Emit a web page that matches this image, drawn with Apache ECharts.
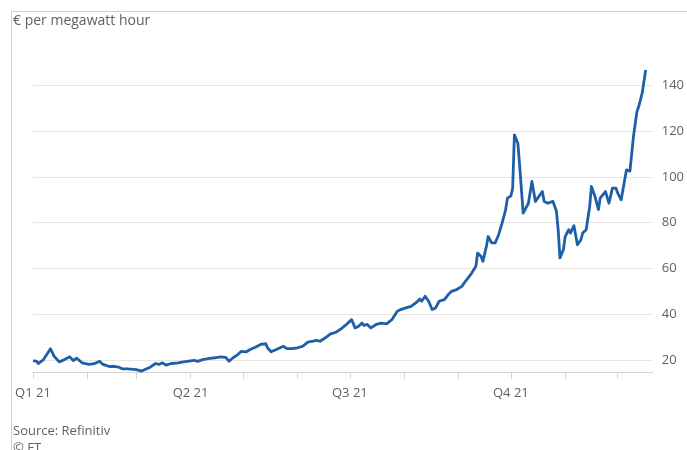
<!DOCTYPE html>
<html>
<head>
<meta charset="utf-8">
<script src="https://cdn.jsdelivr.net/npm/echarts@6/dist/echarts.min.js"></script>
<style>
  html, body { margin: 0; padding: 0; background: #fff; }
  #chart { width: 687px; height: 450px; }
</style>
</head>
<body>
<div id="chart"></div>
<script>
// ---- Data ----
const axisStart = '2021-01-01';
const axisEnd = '2021-12-21';

const dates = [
  '2021-01-01','2021-01-03','2021-01-04','2021-01-07','2021-01-11','2021-01-13','2021-01-16','2021-01-19',
  '2021-01-22','2021-01-24','2021-01-26','2021-01-29','2021-01-30','2021-02-02','2021-02-05','2021-02-08',
  '2021-02-10','2021-02-14','2021-02-16','2021-02-19','2021-02-21','2021-02-24','2021-03-01','2021-03-04',
  '2021-03-06','2021-03-09','2021-03-12','2021-03-14','2021-03-16','2021-03-18','2021-03-21','2021-03-25',
  '2021-03-27','2021-03-30','2021-04-03','2021-04-05','2021-04-08','2021-04-12','2021-04-15','2021-04-18',
  '2021-04-21','2021-04-23','2021-04-25','2021-04-28','2021-04-30','2021-05-03','2021-05-05','2021-05-08',
  '2021-05-11','2021-05-14','2021-05-15','2021-05-17','2021-05-20','2021-05-21','2021-05-24','2021-05-26',
  '2021-05-29','2021-06-01','2021-06-04','2021-06-07','2021-06-10','2021-06-12','2021-06-14','2021-06-17',
  '2021-06-20','2021-06-23','2021-06-26','2021-06-29','2021-07-02','2021-07-04','2021-07-06','2021-07-08',
  '2021-07-09','2021-07-11','2021-07-13','2021-07-16','2021-07-19','2021-07-22','2021-07-25','2021-07-28',
  '2021-07-30','2021-08-02','2021-08-05','2021-08-08','2021-08-10','2021-08-11','2021-08-13','2021-08-15',
  '2021-08-17','2021-08-19','2021-08-21','2021-08-24','2021-08-26','2021-08-28','2021-08-31','2021-09-03',
  '2021-09-05','2021-09-08','2021-09-11','2021-09-12','2021-09-14','2021-09-15','2021-09-17','2021-09-18',
  '2021-09-20','2021-09-22','2021-09-24','2021-09-26','2021-09-28','2021-09-29','2021-10-01','2021-10-02',
  '2021-10-03','2021-10-05','2021-10-06','2021-10-08','2021-10-09','2021-10-11','2021-10-13','2021-10-15',
  '2021-10-17','2021-10-19','2021-10-20','2021-10-22','2021-10-25','2021-10-27','2021-10-28','2021-10-29',
  '2021-10-31','2021-11-01','2021-11-03','2021-11-04','2021-11-05','2021-11-06','2021-11-08','2021-11-10',
  '2021-11-11','2021-11-13','2021-11-15','2021-11-16','2021-11-18','2021-11-20','2021-11-21','2021-11-24',
  '2021-11-25','2021-11-26','2021-11-28','2021-11-30','2021-12-01','2021-12-03','2021-12-04','2021-12-06',
  '2021-12-08','2021-12-10','2021-12-12','2021-12-13','2021-12-15','2021-12-16','2021-12-17'
];

const prices = [
  19.8, 19.7, 18.7, 20.4, 25.1, 21.9, 19.4, 20.4,
  21.6, 20.0, 21.0, 19.0, 19.7, 18.3, 18.6, 19.7,
  18.3, 17.3, 17.5, 17.1, 16.4, 16.4, 16.0, 15.4,
  16.1, 17.1, 18.7, 18.3, 19.0, 18.0, 18.7, 19.0,
  19.3, 19.6, 20.1, 19.6, 20.4, 20.9, 21.2, 21.6,
  21.4, 19.7, 21.0, 22.6, 24.0, 23.8, 24.8, 25.8,
  27.0, 27.3, 25.5, 23.8, 24.8, 25.1, 26.2, 25.2,
  25.2, 25.5, 26.2, 28.0, 28.4, 28.8, 28.4, 29.9,
  31.6, 32.3, 33.8, 35.7, 37.8, 34.2, 34.9, 36.3,
  35.3, 35.7, 34.2, 35.7, 36.3, 36.0, 37.8, 41.4,
  42.2, 42.9, 43.6, 45.3, 46.8, 45.8, 48.0, 45.8,
  42.2, 42.9, 45.8, 46.5, 48.5, 50.1, 50.9, 52.3,
  54.5, 57.4, 61.0, 66.8, 65.3, 63.2, 69.7, 74.0,
  71.2, 71.2, 74.8, 79.9, 85.7, 90.7, 91.7, 95.0,
  118.3, 114.5, 105.0, 84.2, 84.2, 88.5, 98.0, 89.3,
  91.5, 93.6, 89.3, 88.5, 89.3, 85.0, 77.0, 64.7,
  68.3, 74.0, 77.0, 75.5, 74.8, 78.7, 70.4, 72.6,
  75.5, 77.0, 87.1, 95.8, 91.5, 85.7, 90.7, 93.6,
  94.3, 88.5, 95.1, 95.1, 92.9, 90.0, 90.0, 103.0,
  102.5, 117.5, 128.4, 130.6, 136.4, 136.0, 146.5
];

const quarterLabels = { '01': 'Q1 21', '04': 'Q2 21', '07': 'Q3 21', '10': 'Q4 21' };
const yTickValues = [20, 40, 60, 80, 100, 120, 140];

// ---- Build daily category axis ----
function fmt(d) {
  const m = String(d.getUTCMonth() + 1).padStart(2, '0');
  const day = String(d.getUTCDate()).padStart(2, '0');
  return d.getUTCFullYear() + '-' + m + '-' + day;
}
const categories = [];
for (let t = Date.parse(axisStart + 'T00:00:00Z'); t <= Date.parse(axisEnd + 'T00:00:00Z'); t += 86400000) {
  categories.push(fmt(new Date(t)));
}
const seriesData = categories.map(() => null);
dates.forEach((d, i) => {
  const idx = categories.indexOf(d);
  if (idx >= 0) seriesData[idx] = prices[i];
});

const textColor = '#66605c';
const chart = echarts.init(document.getElementById('chart'), null, { renderer: 'canvas' });
chart.setOption({
  animation: false,
  backgroundColor: '#ffffff',
  grid: { left: 33, right: 25, top: 62, bottom: 78, containLabel: false },
  xAxis: {
    type: 'category',
    data: categories,
    boundaryGap: false,
    axisLine: { show: true, lineStyle: { color: '#d6d2ce', width: 1 } },
    axisTick: {
      show: true,
      length: 7,
      interval: (i, v) => v.slice(8) === '01',
      lineStyle: { color: '#d6d2ce', width: 1 }
    },
    axisLabel: {
      interval: (i, v) => v.slice(8) === '01' && quarterLabels[v.slice(5, 7)] !== undefined,
      formatter: v => quarterLabels[v.slice(5, 7)] || '',
      color: textColor,
      fontFamily: 'Open Sans',
      fontSize: 13,
      margin: 15
    },
    splitLine: { show: false }
  },
  yAxis: {
    type: 'value',
    position: 'right',
    min: 15,
    max: 150,
    interval: 5,
    axisLine: { show: false },
    axisTick: { show: false },
    axisLabel: {
      formatter: v => (yTickValues.indexOf(v) >= 0 ? String(v) : ''),
      color: textColor,
      fontFamily: 'Open Sans',
      fontSize: 13,
      margin: 9
    },
    splitLine: {
      show: true,
      lineStyle: { color: ['rgba(0,0,0,0)', '#ebe6e1', 'rgba(0,0,0,0)', 'rgba(0,0,0,0)'], width: 1 }
    }
  },
  series: [{
    type: 'line',
    data: seriesData,
    connectNulls: true,
    showSymbol: false,
    symbol: 'none',
    lineStyle: { color: '#1f5ea8', width: 2.8, join: 'round' },
    smooth: false
  }],
  graphic: [
    { type: 'line', shape: { x1: 11, y1: 11.5, x2: 687, y2: 11.5 }, style: { stroke: '#cfcfcf', lineWidth: 1 } },
    { type: 'line', shape: { x1: 11.5, y1: 11, x2: 11.5, y2: 450 }, style: { stroke: '#cfcfcf', lineWidth: 1 } },
    { type: 'text', left: 13, top: 14, style: { text: '€ per megawatt hour', fill: textColor, font: '14px "Open Sans"' } },
    { type: 'text', left: 13, top: 425, style: { text: 'Source: Refinitiv', fill: textColor, font: '13px "Open Sans"' } },
    { type: 'text', left: 13, top: 442, style: { text: '© FT', fill: textColor, font: '13px "Open Sans"' } }
  ]
});
</script>
</body>
</html>
